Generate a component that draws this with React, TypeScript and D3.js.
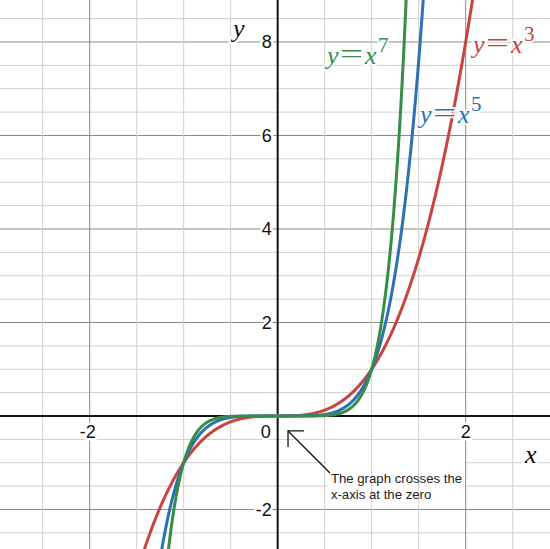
import * as d3 from 'd3';

// powers that are plotted, y = x^n
const exponents = [3, 5, 7];
const curveColors = ['#c74440', '#2d70b3', '#388c46'];

// tick labels
const xTickValues = [-2, 2];
const yTickValues = [-2, 2, 4, 6, 8];

// note under the axis
const noteLines = ['The graph crosses the', 'x-axis at the zero'];

const width = 550;
const height = 549;

const x = d3.scaleLinear().domain([-2.954, 2.897]).range([0, width]);
const y = d3.scaleLinear().domain([-2.845, 8.898]).range([height, 0]);

// where the "y = x^n" labels sit (data coords), same order as exponents
const labelAnchors: [number, number][] = [
  [2.078, 7.765],
  [1.514, 6.27],
  [0.524, 7.53],
];

const serif = "'Liberation Serif', 'Times New Roman', serif";
const sans = "'Liberation Sans', Arial, sans-serif";

const CurveLabel = ({ n, color, at }: { n: number; color: string; at: [number, number] }) => {
  const lx = x(at[0]);
  const ly = y(at[1]);
  return (
    <g
      fill={color}
      fontFamily={serif}
      stroke="white"
      strokeOpacity={0.85}
      strokeWidth={4}
      strokeLinejoin="round"
      paintOrder="stroke"
    >
      <text x={lx} y={ly} fontSize={26} fontStyle="italic">
        y
      </text>
      <text x={lx + 13} y={ly - 1} fontSize={27} textLength={23} lengthAdjust="spacingAndGlyphs">
        =
      </text>
      <text x={lx + 38} y={ly} fontSize={26} fontStyle="italic">
        x
      </text>
      <text x={lx + 51} y={ly - 12} fontSize={21}>
        {n}
      </text>
    </g>
  );
};

export default function App() {
  const minorX = d3.range(-2.5, 3, 0.5).filter((v) => v % 2 !== 0);
  const majorX = d3.range(-2, 3, 2).filter((v) => v !== 0);
  const minorY = d3.range(-2.5, 9, 0.5).filter((v) => v % 2 !== 0);
  const majorY = d3.range(-2, 9, 2).filter((v) => v !== 0);

  // sample each curve only where it is on screen
  const curves = exponents.map((n) => {
    const lim = Math.pow(10, 1 / n);
    const xs = d3.range(-lim, lim + 0.001, 0.005);
    return xs.map((v) => [v, Math.pow(v, n)] as [number, number]);
  });

  const line = d3
    .line<[number, number]>()
    .x((d) => x(d[0]))
    .y((d) => y(d[1]));

  const x0 = x(0);
  const y0 = y(0);

  // annotation box / arrow
  const tip = [x(0.11), y(-0.32)];
  const tail = [x(0.556), y(-1.22)];
  const noteX = x(0.566);
  const noteY = y(-1.44);

  return (
    <svg
      width={width}
      height={height}
      style={{ position: 'absolute', left: 0, top: 0, background: 'white' }}
    >
      <defs>
        <clipPath id="plot">
          <rect x={0} y={0} width={width} height={height} />
        </clipPath>
      </defs>

      {/* horizontal grid */}
      <g strokeWidth={1}>
        {minorY.map((v) => (
          <line key={'hy' + v} x1={0} x2={width} y1={y(v)} y2={y(v)} stroke="#cfcfcf" />
        ))}
        {majorY.map((v) => (
          <line key={'Hy' + v} x1={0} x2={width} y1={y(v)} y2={y(v)} stroke="#8a8a8a" />
        ))}
      </g>

      {/* white box behind the note hides the horizontal lines only */}
      <rect x={327} y={460} width={139} height={41} fill="white" />

      {/* vertical grid */}
      <g strokeWidth={1}>
        {minorX.map((v) => (
          <line key={'vx' + v} y1={0} y2={height} x1={x(v)} x2={x(v)} stroke="#cfcfcf" />
        ))}
        {majorX.map((v) => (
          <line key={'Vx' + v} y1={0} y2={height} x1={x(v)} x2={x(v)} stroke="#8a8a8a" />
        ))}
      </g>

      {/* axes */}
      <line x1={0} x2={width} y1={y0} y2={y0} stroke="#111" strokeWidth={2} />
      <line x1={x0} x2={x0} y1={0} y2={height} stroke="#111" strokeWidth={2} />

      {/* tick labels */}
      <g
        fontFamily={sans}
        fontSize={18}
        fill="#111"
        stroke="white"
        strokeWidth={5}
        strokeLinejoin="round"
        paintOrder="stroke"
      >
        {yTickValues.map((v) => (
          <text key={'ty' + v} x={x0 - 6} y={y(v)} dy="0.35em" textAnchor="end">
            {v}
          </text>
        ))}
        {xTickValues.map((v) => (
          <text
            key={'tx' + v}
            x={v < 0 ? x(v) + 6 : x(v)}
            y={y0 + 22}
            textAnchor={v < 0 ? 'end' : 'middle'}
          >
            {v}
          </text>
        ))}
        <text x={x0 - 7} y={y0 + 22} textAnchor="end">
          0
        </text>
      </g>

      {/* axis names */}
      <g
        fontFamily={serif}
        fontStyle="italic"
        fontSize={26}
        fill="#111"
        stroke="white"
        strokeWidth={4}
        paintOrder="stroke"
      >
        <text x={x(-0.475)} y={y(8.107)}>
          y
        </text>
        <text x={x(2.631)} y={y(-1.005)}>
          x
        </text>
      </g>

      {/* curves */}
      <g clipPath="url(#plot)" fill="none" strokeWidth={3} strokeLinejoin="round">
        {curves.map((pts, i) => (
          <path key={exponents[i]} d={line(pts) ?? ''} stroke={curveColors[i]} />
        ))}
      </g>

      {exponents.map((n, i) => (
        <CurveLabel key={'lab' + n} n={n} color={curveColors[i]} at={labelAnchors[i]} />
      ))}

      {/* note with arrow */}
      <g stroke="#111" strokeWidth={1.3} fill="none">
        <line x1={tail[0]} y1={tail[1]} x2={tip[0]} y2={tip[1]} />
        <path d={`M${tip[0] + 16},${tip[1]}H${tip[0]}V${tip[1] + 16}`} />
      </g>
      <g fontFamily={sans} fontSize={13.2} fill="#222">
        {noteLines.map((t, i) => (
          <text key={t} x={noteX} y={noteY + i * 16}>
            {t}
          </text>
        ))}
      </g>
    </svg>
  );
}
